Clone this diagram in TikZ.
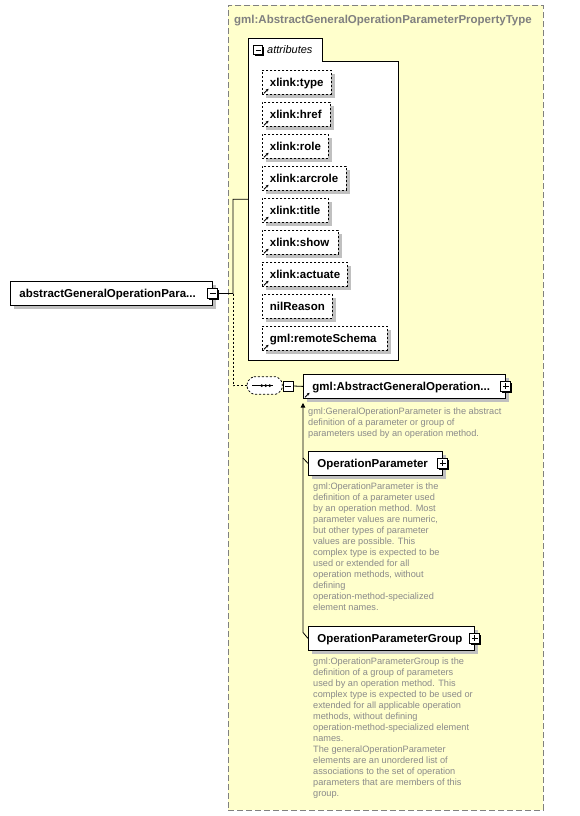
\documentclass[tikz,border=0pt]{standalone}
\usepackage{fontspec}
\setmainfont{Liberation Sans}
\usetikzlibrary{arrows.meta}
\definecolor{bgyellow}{HTML}{FFFFCC}
\definecolor{framegray}{HTML}{808080}
\definecolor{shadowgray}{HTML}{C0C0C0}
\definecolor{docgray}{HTML}{8A8A8A}
\begin{document}
\begin{tikzpicture}[x=1pt,y=-1pt,
  names/.style={font=\fontsize{11.5}{13}\selectfont\bfseries},
  shd/.style={preaction={draw=none, fill=shadowgray, transform canvas={shift={(4pt,-4pt)}}}},
  elem/.style={draw, fill=white, shd, names, anchor=north west, minimum height=24,
    inner xsep=9, inner ysep=0, align=left, text height=8.3, text depth=0, line width=0.8},
  attr/.style={elem, dash pattern=on 2pt off 2pt, inner xsep=7.5},
  pmbox/.style={draw, fill=white, minimum size=10, inner sep=0, line width=0.9,
    preaction={draw=none, fill=black, transform canvas={shift={(1.2pt,-1.2pt)}}}},
  minusbox/.style={pmbox, path picture={\draw[line width=0.9]
    ([xshift=2pt]path picture bounding box.west) -- ([xshift=-2pt]path picture bounding box.east);}},
  plusbox/.style={pmbox, path picture={\draw[line width=0.9]
    ([xshift=2pt]path picture bounding box.west) -- ([xshift=-2pt]path picture bounding box.east)
    ([yshift=-2pt]path picture bounding box.north) -- ([yshift=2pt]path picture bounding box.south);}},
  refarrow/.style={line width=0.8, -{Stealth[length=2.5pt,width=2.8pt]}},
  doc/.style={font=\fontsize{9.2}{11}\selectfont, text=docgray, inner sep=0, align=left, anchor=north west},
  conn/.style={line width=0.8}
]
\useasboundingbox (0,0) rectangle (579,816);

% complex type container
\node[draw=framegray, fill=bgyellow, dash pattern=on 6pt off 3pt, line width=0.8,
  anchor=north west, minimum width=315, minimum height=805, inner sep=0] (ctype) at (228,5) {};
\node[names, text=framegray, anchor=west, inner sep=0, text height=8.3, text depth=0] (title) at (234,19)
  {gml:AbstractGeneralOperationParameterPropertyType};

% attributes group
\node[anchor=north west, minimum width=150, minimum height=322, inner sep=0] (attrbox) at (248,38) {};
\draw[line width=0.8, fill=white] (attrbox.north west) -- (322,38) -- (322,61) -- (attrbox.east |- 0,61)
  -- (attrbox.south east) -- (attrbox.south west) -- cycle;
\node[minusbox, minimum size=9] (attrm) at (258,50) {};
\node[font=\fontsize{11}{13}\selectfont\itshape, anchor=west, inner sep=0, text height=8, text depth=0]
  (attrlbl) at (267,50) {attributes};

\node[attr, minimum width=69, text width=54] (a1) at (262,70) {xlink:type};
\node[attr, minimum width=68, text width=53] (a2) at (262,102) {xlink:href};
\node[attr, minimum width=66, text width=51] (a3) at (262,134) {xlink:role};
\node[attr, minimum width=84, text width=69] (a4) at (262,166) {xlink:arcrole};
\node[attr, minimum width=66, text width=51] (a5) at (262,198) {xlink:title};
\node[attr, minimum width=76, text width=61] (a6) at (262,230) {xlink:show};
\node[attr, minimum width=85, text width=70] (a7) at (262,262) {xlink:actuate};
\node[attr, minimum width=70, text width=55] (a8) at (262,294) {nilReason};
\node[attr, minimum width=125, text width=110] (a9) at (262,326) {gml:remoteSchema};
\foreach \n in {a1,a2,a3,a4,a5,a6,a7,a9}
  \draw[refarrow] ([shift={(2,-1.5)}]\n.south west) -- ++(4.5,-4.5);

% main element
\node[elem, minimum width=202, text width=184] (el) at (10,281) {abstractGeneralOperationPara...};
\node[minusbox] (m0) at (el.east) {};
\coordinate (j0) at (233,293.5);
\draw[conn] (m0.east) -- (j0) |- (attrbox.west);

% sequence compositor
\node[minimum width=34.5, minimum height=17, inner sep=0] (seq) at (264.75,385.5) {};
\fill[shadowgray, shift={(4,4)}, rounded corners=1.5pt]
  ([xshift=5pt]seq.north west) -- ([xshift=-5pt]seq.north east) -- ([yshift=-5pt]seq.north east)
  -- ([yshift=5pt]seq.south east) -- ([xshift=-5pt]seq.south east) -- ([xshift=5pt]seq.south west)
  -- ([yshift=5pt]seq.south west) -- ([yshift=-5pt]seq.north west) -- cycle;
\draw[fill=white, line width=0.8, dash pattern=on 2pt off 2pt, rounded corners=1.5pt]
  ([xshift=5pt]seq.north west) -- ([xshift=-5pt]seq.north east) -- ([yshift=-5pt]seq.north east)
  -- ([yshift=5pt]seq.south east) -- ([xshift=-5pt]seq.south east) -- ([xshift=5pt]seq.south west)
  -- ([yshift=5pt]seq.south west) -- ([yshift=-5pt]seq.north west) -- cycle;
\draw[line width=1] ([xshift=-12.5pt]seq.center) -- ([xshift=8pt]seq.center);
\foreach \dx in {-3,1,5} \fill ([xshift=\dx pt]seq.center) circle (1.5);
\draw[conn, dash pattern=on 2pt off 2pt] (j0) |- (seq.west);
\node[minusbox] (m1) at (288,386) {};

% abstract element
\node[elem, minimum width=202, text width=184] (absg) at (303,374) {gml:AbstractGeneralOperation...};
\node[plusbox] (p1) at (absg.east) {};
\draw[conn] (m1.east) -- (absg.west);
\draw[refarrow] ([shift={(2,-1.5)}]absg.south west) -- ++(4.5,-4.5);
\node[doc] (d1) at (308,408) {gml:GeneralOperationParameter is the abstract\\
definition of a parameter or group of\\
parameters used by an operation method.};

% substitution members
\node[elem, minimum width=134, text width=116] (op) at (308,451) {OperationParameter};
\node[plusbox] (p2) at (op.east) {};
\node[doc] (d2) at (313,483) {gml:OperationParameter is the\\
definition of a parameter used\\
by an operation method. Most\\
parameter values are numeric,\\
but other types of parameter\\
values are possible. This\\
complex type is expected to be\\
used or extended for all\\
operation methods, without\\
defining\\
operation-method-specialized\\
element names.};

\node[elem, minimum width=166, text width=148] (opg) at (308,626) {OperationParameterGroup};
\node[plusbox] (p3) at (opg.east) {};
\node[doc] (d3) at (313,658) {gml:OperationParameterGroup is the\\
definition of a group of parameters\\
used by an operation method. This\\
complex type is expected to be used or\\
extended for all applicable operation\\
methods, without defining\\
operation-method-specialized element\\
names.\\
The generalOperationParameter\\
elements are an unordered list of\\
associations to the set of operation\\
parameters that are members of this\\
group.};

\coordinate (s0) at (303,403);
\coordinate (s1) at (303,458);
\coordinate (s2) at (303,632.5);
\draw[conn] (op.west) -- (s1);
\draw[conn, -{Triangle[length=4.5pt,width=4.5pt]}] (opg.west) -- (s2) -- (s0);
\end{tikzpicture}
\end{document}
